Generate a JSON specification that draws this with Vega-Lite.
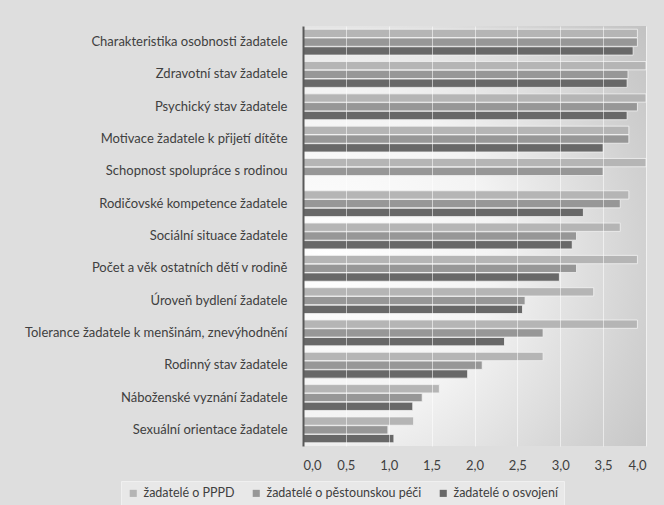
{
  "$schema": "https://vega.github.io/schema/vega-lite/v6.json",
  "width": 343,
  "height": 420,
  "autosize": {"type": "none"},
  "padding": {"left": 303, "top": 26, "right": 18, "bottom": 59},
  "background": "#dedede",
  "view": {
    "stroke": null,
    "fill": {
      "gradient": "radial",
      "x1": 0.15, "y1": 0.55, "r1": 0,
      "x2": 0.15, "y2": 0.55, "r2": 1.0,
      "stops": [
        {"offset": 0, "color": "#ffffff"},
        {"offset": 0.4, "color": "#f3f3f3"},
        {"offset": 0.75, "color": "#d2d2d2"},
        {"offset": 1, "color": "#bdbdbd"}
      ]
    }
  },
  "data": {
    "values": [
      {"kat": "Charakteristika osobnosti žadatele", "skupina": "žadatelé o PPPD", "hodnota": 3.9},
      {"kat": "Charakteristika osobnosti žadatele", "skupina": "žadatelé o pěstounskou péči", "hodnota": 3.9},
      {"kat": "Charakteristika osobnosti žadatele", "skupina": "žadatelé o osvojení", "hodnota": 3.85},
      {"kat": "Zdravotní stav žadatele", "skupina": "žadatelé o PPPD", "hodnota": 4.0},
      {"kat": "Zdravotní stav žadatele", "skupina": "žadatelé o pěstounskou péči", "hodnota": 3.79},
      {"kat": "Zdravotní stav žadatele", "skupina": "žadatelé o osvojení", "hodnota": 3.78},
      {"kat": "Psychický stav žadatele", "skupina": "žadatelé o PPPD", "hodnota": 4.0},
      {"kat": "Psychický stav žadatele", "skupina": "žadatelé o pěstounskou péči", "hodnota": 3.9},
      {"kat": "Psychický stav žadatele", "skupina": "žadatelé o osvojení", "hodnota": 3.78},
      {"kat": "Motivace žadatele k přijetí dítěte", "skupina": "žadatelé o PPPD", "hodnota": 3.8},
      {"kat": "Motivace žadatele k přijetí dítěte", "skupina": "žadatelé o pěstounskou péči", "hodnota": 3.8},
      {"kat": "Motivace žadatele k přijetí dítěte", "skupina": "žadatelé o osvojení", "hodnota": 3.5},
      {"kat": "Schopnost spolupráce s rodinou", "skupina": "žadatelé o PPPD", "hodnota": 4.0},
      {"kat": "Schopnost spolupráce s rodinou", "skupina": "žadatelé o pěstounskou péči", "hodnota": 3.5},
      {"kat": "Rodičovské kompetence žadatele", "skupina": "žadatelé o PPPD", "hodnota": 3.8},
      {"kat": "Rodičovské kompetence žadatele", "skupina": "žadatelé o pěstounskou péči", "hodnota": 3.7},
      {"kat": "Rodičovské kompetence žadatele", "skupina": "žadatelé o osvojení", "hodnota": 3.27},
      {"kat": "Sociální situace žadatele", "skupina": "žadatelé o PPPD", "hodnota": 3.7},
      {"kat": "Sociální situace žadatele", "skupina": "žadatelé o pěstounskou péči", "hodnota": 3.19},
      {"kat": "Sociální situace žadatele", "skupina": "žadatelé o osvojení", "hodnota": 3.14},
      {"kat": "Počet a věk ostatních dětí v rodině", "skupina": "žadatelé o PPPD", "hodnota": 3.9},
      {"kat": "Počet a věk ostatních dětí v rodině", "skupina": "žadatelé o pěstounskou péči", "hodnota": 3.19},
      {"kat": "Počet a věk ostatních dětí v rodině", "skupina": "žadatelé o osvojení", "hodnota": 2.99},
      {"kat": "Úroveň bydlení žadatele", "skupina": "žadatelé o PPPD", "hodnota": 3.39},
      {"kat": "Úroveň bydlení žadatele", "skupina": "žadatelé o pěstounskou péči", "hodnota": 2.59},
      {"kat": "Úroveň bydlení žadatele", "skupina": "žadatelé o osvojení", "hodnota": 2.56},
      {"kat": "Tolerance žadatele k menšinám, znevýhodnění", "skupina": "žadatelé o PPPD", "hodnota": 3.9},
      {"kat": "Tolerance žadatele k menšinám, znevýhodnění", "skupina": "žadatelé o pěstounskou péči", "hodnota": 2.8},
      {"kat": "Tolerance žadatele k menšinám, znevýhodnění", "skupina": "žadatelé o osvojení", "hodnota": 2.35},
      {"kat": "Rodinný stav žadatele", "skupina": "žadatelé o PPPD", "hodnota": 2.8},
      {"kat": "Rodinný stav žadatele", "skupina": "žadatelé o pěstounskou péči", "hodnota": 2.09},
      {"kat": "Rodinný stav žadatele", "skupina": "žadatelé o osvojení", "hodnota": 1.92},
      {"kat": "Náboženské vyznání žadatele", "skupina": "žadatelé o PPPD", "hodnota": 1.59},
      {"kat": "Náboženské vyznání žadatele", "skupina": "žadatelé o pěstounskou péči", "hodnota": 1.39},
      {"kat": "Náboženské vyznání žadatele", "skupina": "žadatelé o osvojení", "hodnota": 1.28},
      {"kat": "Sexuální orientace žadatele", "skupina": "žadatelé o PPPD", "hodnota": 1.29},
      {"kat": "Sexuální orientace žadatele", "skupina": "žadatelé o pěstounskou péči", "hodnota": 0.99},
      {"kat": "Sexuální orientace žadatele", "skupina": "žadatelé o osvojení", "hodnota": 1.06}
    ]
  },
  "mark": {"type": "bar", "stroke": "#f2f2f2", "strokeWidth": 1, "strokeOpacity": 0.8},
  "encoding": {
    "y": {
      "field": "kat",
      "type": "nominal",
      "sort": null,
      "title": null,
      "scale": {"paddingInner": 0.2, "paddingOuter": 0.1},
      "axis": {
        "domainColor": "#595959",
        "domainWidth": 2,
        "ticks": false,
        "zindex": 2,
        "labelPadding": 16,
        "labelFont": "Lato",
        "labelFontSize": 13,
        "labelColor": "#404040",
        "labelLimit": 300
      }
    },
    "yOffset": {
      "field": "skupina",
      "type": "nominal",
      "sort": ["žadatelé o PPPD", "žadatelé o pěstounskou péči", "žadatelé o osvojení"],
      "scale": {"paddingInner": 0.05}
    },
    "x": {
      "field": "hodnota",
      "type": "quantitative",
      "title": null,
      "scale": {"domain": [0, 4]},
      "axis": {
        "values": [0, 0.5, 1, 1.5, 2, 2.5, 3, 3.5, 4],
        "labelExpr": "replace(format(datum.value, '.1f'), '.', ',')",
        "domain": false,
        "ticks": false,
        "grid": true,
        "gridColor": "#ffffff",
        "gridOpacity": 0.55,
        "zindex": 1,
        "labelPadding": 13,
        "labelFont": "Lato",
        "labelFontSize": 13,
        "labelColor": "#404040"
      }
    },
    "color": {
      "field": "skupina",
      "type": "nominal",
      "sort": ["žadatelé o PPPD", "žadatelé o pěstounskou péči", "žadatelé o osvojení"],
      "scale": {
        "domain": ["žadatelé o PPPD", "žadatelé o pěstounskou péči", "žadatelé o osvojení"],
        "range": ["#b5b5b5", "#979797", "#686868"]
      },
      "legend": {
        "title": null,
        "orient": "none",
        "direction": "horizontal",
        "legendX": -182,
        "legendY": 455,
        "fillColor": "#e8e8e8",
        "strokeColor": "#f0f0f0",
        "padding": 6,
        "symbolType": "square",
        "symbolSize": 50,
        "symbolStrokeWidth": 0,
        "columnPadding": 15,
        "labelFont": "Lato",
        "labelFontSize": 12.5,
        "labelColor": "#404040",
        "labelLimit": 300
      }
    }
  }
}
